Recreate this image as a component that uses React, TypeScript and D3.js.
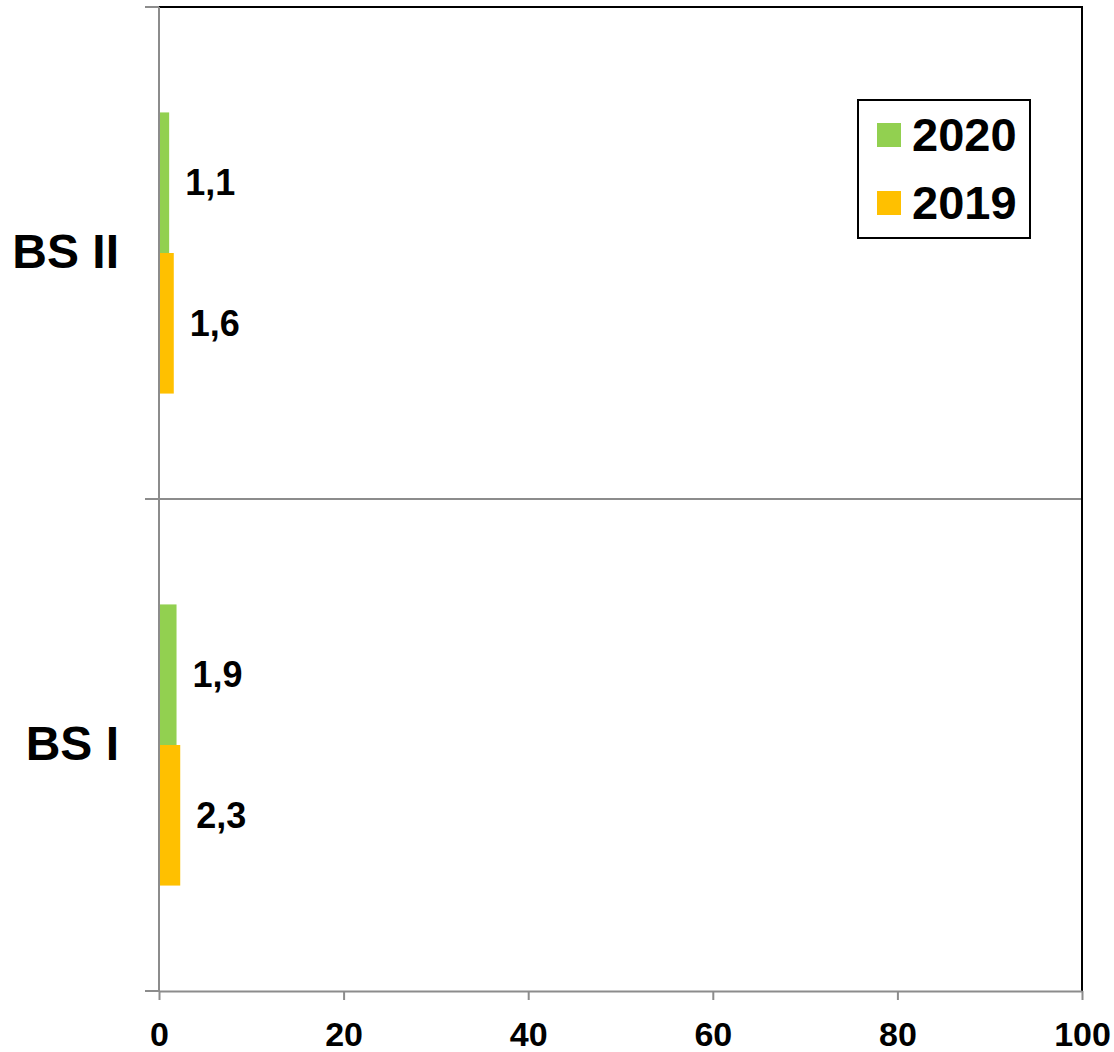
import * as d3 from 'd3';
import React, { useEffect, useRef } from 'react';

const categories = ['BS II', 'BS I'];
const seriesNames = ['2020', '2019'];
const values2020 = [1.1, 1.9];
const values2019 = [1.6, 2.3];
const xTicks = [0, 20, 40, 60, 80, 100];
const seriesColors = ['#92D050', '#FFC000'];

const App = () => {
  const ref = useRef<SVGSVGElement | null>(null);

  useEffect(() => {
    if (!ref.current) return;
    const svg = d3.select(ref.current);
    svg.selectAll('*').remove();

    const font = '"Liberation Sans", Arial, sans-serif';
    const left = 159;
    const right = 1082;
    const top = 7;
    const bottom = 991;

    const x = d3.scaleLinear().domain([0, 100]).range([left, right]);
    const y = d3.scaleBand().domain(categories).range([top, bottom]).padding(0);
    const band = y.bandwidth();
    const gap = band - band / 1.75;
    const ySub = d3.scaleBand().domain(seriesNames).range([gap / 2, band - gap / 2]).padding(0);

    const seriesValues = [values2020, values2019];

    // gridline between categories
    svg.append('line').attr('x1', left).attr('x2', right).attr('y1', y('BS I')).attr('y2', y('BS I'))
      .attr('stroke', '#8c8c8c').attr('stroke-width', 2);

    // plot border top / right
    svg.append('line').attr('x1', left).attr('x2', right + 1).attr('y1', top).attr('y2', top)
      .attr('stroke', '#000').attr('stroke-width', 2);
    svg.append('line').attr('x1', right).attr('x2', right).attr('y1', top).attr('y2', bottom)
      .attr('stroke', '#000').attr('stroke-width', 2);

    // bars
    categories.forEach((c, ci) => {
      seriesNames.forEach((s, si) => {
        const v = seriesValues[si][ci];
        const y0 = (y(c) as number) + (ySub(s) as number);
        svg.append('rect')
          .attr('x', x(0))
          .attr('y', y0)
          .attr('width', x(v) - x(0))
          .attr('height', ySub.bandwidth())
          .attr('fill', seriesColors[si]);
        svg.append('text')
          .attr('x', x(v) + 16)
          .attr('y', y0 + ySub.bandwidth() / 2)
          .attr('dy', '0.35em')
          .attr('font-family', font)
          .attr('font-weight', 'bold')
          .attr('font-size', 36)
          .text(String(v).replace('.', ','));
      });
    });

    // y axis
    const yAxis = svg.append('g').attr('transform', `translate(${left},0)`)
      .call(d3.axisLeft(y).tickSize(0).tickPadding(40));
    yAxis.select('.domain').remove();
    yAxis.selectAll('.tick text').attr('font-family', font).attr('font-weight', 'bold')
      .attr('font-size', 48).attr('fill', '#000');
    svg.append('line').attr('x1', left).attr('x2', left).attr('y1', top).attr('y2', bottom)
      .attr('stroke', '#8c8c8c').attr('stroke-width', 2);
    [top, y('BS I') as number, bottom].forEach((ty) => {
      svg.append('line').attr('x1', left - 14).attr('x2', left).attr('y1', ty).attr('y2', ty)
        .attr('stroke', '#8c8c8c').attr('stroke-width', 2);
    });

    // x axis
    const xAxis = svg.append('g').attr('transform', `translate(0,${bottom})`)
      .call(d3.axisBottom(x).tickValues(xTicks).tickSize(9).tickPadding(22).tickSizeOuter(0));
    xAxis.select('.domain').attr('stroke', '#8c8c8c').attr('stroke-width', 2);
    xAxis.selectAll('.tick line').attr('stroke', '#8c8c8c').attr('stroke-width', 2);
    xAxis.selectAll('.tick text').attr('font-family', font).attr('font-weight', 'bold')
      .attr('font-size', 34).attr('fill', '#000');

    // legend
    const lg = svg.append('g');
    lg.append('rect').attr('x', 858).attr('y', 100).attr('width', 172).attr('height', 138)
      .attr('fill', '#fff').attr('stroke', '#000').attr('stroke-width', 2);
    seriesNames.forEach((s, i) => {
      const cy = 135 + i * 68;
      lg.append('rect').attr('x', 877).attr('y', cy - 12).attr('width', 24).attr('height', 24)
        .attr('fill', seriesColors[i]);
      lg.append('text').attr('x', 912).attr('y', cy).attr('dy', '0.35em')
        .attr('font-family', font).attr('font-weight', 'bold').attr('font-size', 47)
        .text(s);
    });
  }, []);

  return (
    <svg ref={ref} width={1114} height={1052} style={{ position: 'absolute', left: 0, top: 0, background: '#fff' }} />
  );
};

export default App;
